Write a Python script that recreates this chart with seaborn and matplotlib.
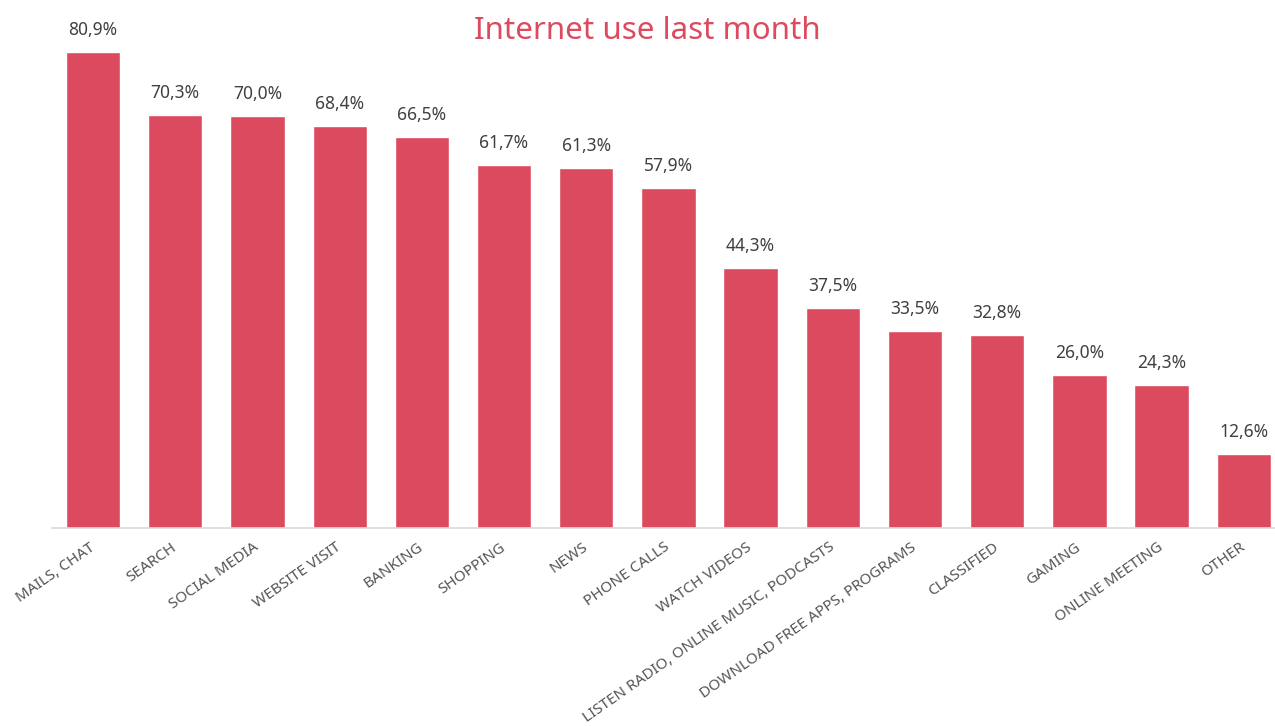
import matplotlib.pyplot as plt
import seaborn as sns
import pandas as pd

categories = ["MAILS, CHAT", "SEARCH", "SOCIAL MEDIA", "WEBSITE VISIT", "BANKING",
              "SHOPPING", "NEWS", "PHONE CALLS", "WATCH VIDEOS",
              "LISTEN RADIO, ONLINE MUSIC, PODCASTS", "DOWNLOAD FREE APPS, PROGRAMS",
              "CLASSIFIED", "GAMING", "ONLINE MEETING", "OTHER"]
values = [80.9, 70.3, 70.0, 68.4, 66.5, 61.7, 61.3, 57.9, 44.3, 37.5, 33.5, 32.8, 26.0, 24.3, 12.6]

RED = "#DC4A5F"

sns.set_theme(style="white")
plt.rcParams["font.family"] = ["Noto Sans", "DejaVu Sans"]

df = pd.DataFrame({"category": categories, "value": values})

fig = plt.figure(figsize=(12.75, 7.26), dpi=100)
ax = fig.add_axes([52 / 1275, 1 - 528 / 726, 1 - 52 / 1275, 528 / 726])
sns.barplot(data=df, x="category", y="value", color=RED, saturation=1, width=0.66, ax=ax)

ax.set_xlim(-0.5, 14.38)
ax.set_ylim(0, 89.8)
ax.set_xlabel("")
ax.set_ylabel("")
ax.set_yticks([])
for s in ["top", "right", "left"]:
    ax.spines[s].set_visible(False)
ax.spines["bottom"].set_color("#d9d9d9")
ax.spines["bottom"].set_linewidth(1.2)

ax.tick_params(axis="x", length=0, pad=13)
ax.set_xticks(range(len(categories)))
ax.set_xticklabels(categories, rotation=35, ha="right", va="center",
                   rotation_mode="anchor", fontsize=11, color="#555555")

for i, v in enumerate(values):
    ax.text(i, v + 2.2, f"{v:.1f}".replace(".", ",") + "%", ha="center", va="bottom",
            fontsize=12.5, color="#404040")

fig.text(647 / 1275, 1 - 31 / 726, "Internet use last month", ha="center", va="center",
         fontsize=22.5, color=RED)

fig.savefig("out.png", dpi=100)
